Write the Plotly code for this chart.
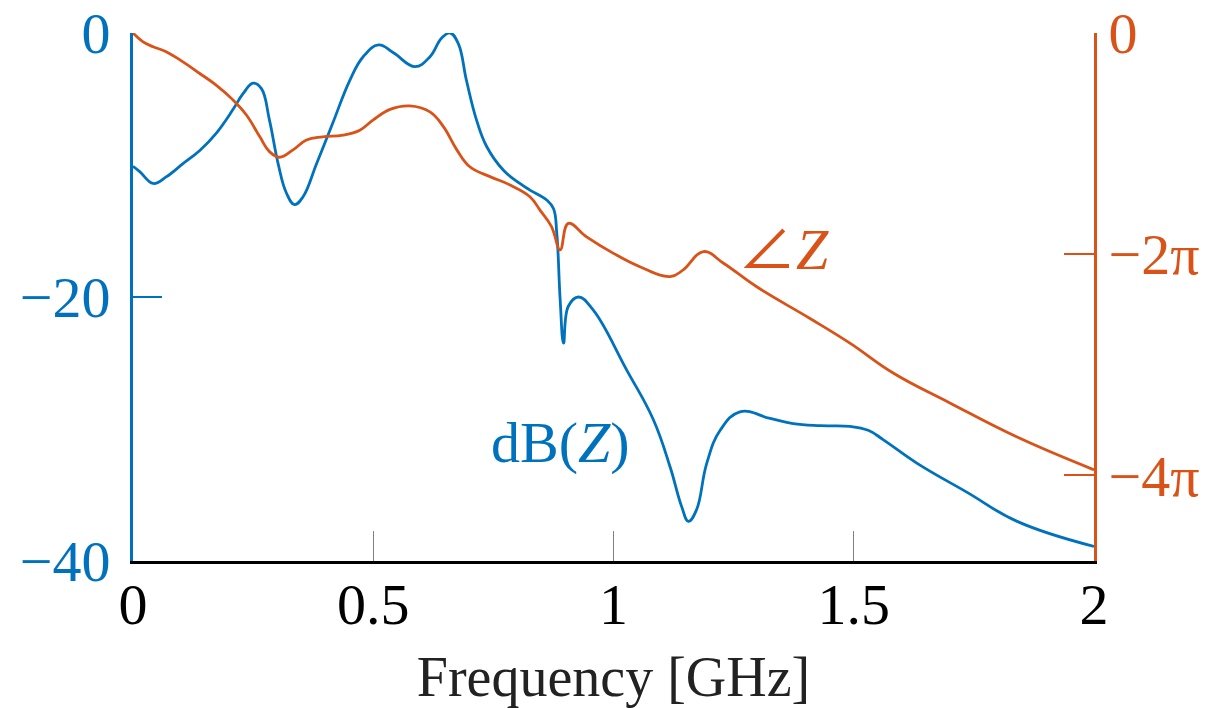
import math
import plotly.graph_objects as go

# Impedance magnitude (dB) sampled over frequency
freq_db = [0.000, 0.014, 0.042, 0.069, 0.104, 0.139, 0.173, 0.208, 0.229, 0.250,
           0.267, 0.284, 0.302, 0.319, 0.336, 0.354, 0.382, 0.416, 0.451, 0.479,
           0.511, 0.542, 0.587, 0.618, 0.642, 0.660, 0.677, 0.694, 0.715, 0.736,
           0.771, 0.805, 0.826, 0.861, 0.875, 0.882, 0.889, 0.896, 0.906, 0.927,
           0.958, 1.027, 1.083, 1.118, 1.142, 1.156, 1.173, 1.194, 1.222, 1.263,
           1.326, 1.374, 1.430, 1.492, 1.530, 1.561, 1.632, 1.736, 1.840, 2.000]
mag_db = [-10.1, -10.5, -11.4, -10.9, -9.9, -8.9, -7.6, -5.8, -4.6, -3.8,
          -4.2, -6.6, -9.9, -12.1, -13.0, -12.4, -9.9, -6.8, -3.6, -1.8,
          -0.9, -1.5, -2.55, -1.8, -0.4, 0.0, -0.8, -3.6, -6.6, -8.6,
          -10.4, -11.4, -11.9, -12.65, -13.3, -15.2, -20.2, -23.5, -20.7, -20.0,
          -21.0, -25.5, -29.3, -32.9, -35.9, -37.0, -36.1, -32.6, -30.1, -28.7,
          -29.2, -29.6, -29.75, -29.8, -30.1, -30.8, -32.6, -34.8, -37.0, -38.9]

# Impedance phase (rad) sampled over frequency
freq_ph = [0.000, 0.021, 0.042, 0.069, 0.104, 0.139, 0.173, 0.208, 0.236, 0.264,
           0.284, 0.305, 0.333, 0.361, 0.395, 0.437, 0.472, 0.500, 0.535, 0.576,
           0.618, 0.646, 0.674, 0.701, 0.743, 0.785, 0.826, 0.847, 0.871, 0.889,
           0.906, 0.944, 1.000, 1.055, 1.118, 1.145, 1.187, 1.229, 1.298, 1.409,
           1.492, 1.582, 1.700, 1.840, 2.000]
phase = [0.00, -0.25, -0.39, -0.53, -0.82, -1.15, -1.48, -1.90, -2.33, -2.95,
         -3.37, -3.53, -3.32, -3.04, -2.95, -2.90, -2.76, -2.47, -2.17, -2.07,
         -2.24, -2.66, -3.32, -3.80, -4.08, -4.32, -4.65, -5.03, -5.50, -6.16,
         -5.41, -5.79, -6.26, -6.64, -6.92, -6.73, -6.21, -6.54, -7.21, -8.11,
         -8.81, -9.66, -10.51, -11.48, -12.41]

x_ticks = [0, 0.5, 1, 1.5, 2]
x_tick_text = ["0", "0.5", "1", "1.5", "2"]
db_ticks = [0, -20, -40]
db_tick_text = ["0", "\u221220", "\u221240"]
ph_ticks = [0, -2 * math.pi, -4 * math.pi]
ph_tick_text = ["0", "\u22122\u03c0", "\u22124\u03c0"]

BLUE = "#0072BD"
ORANGE = "#D95319"
FONT = "Liberation Serif"
FS = 58

fig = go.Figure()
fig.add_trace(go.Scatter(x=freq_db, y=mag_db, mode="lines",
                         line=dict(color=BLUE, width=2.8, shape="spline", smoothing=1.2),
                         yaxis="y", showlegend=False))
fig.add_trace(go.Scatter(x=freq_ph, y=phase, mode="lines",
                         line=dict(color=ORANGE, width=2.8, shape="spline", smoothing=1.2),
                         yaxis="y2", showlegend=False))

fig.add_annotation(x=0.889, y=-31.0, xref="x", yref="y", text="dB(<i>Z</i>)",
                   showarrow=False, font=dict(family=FONT, size=FS, color=BLUE))
fig.add_annotation(x=1.353, y=-6.0, xref="x", yref="y2",
                   text="<span style='font-family:Noto Sans CJK SC'>\u2220</span><i>Z</i>",
                   showarrow=False, font=dict(family=FONT, size=FS, color=ORANGE))

fig.update_layout(
    width=1209, height=708,
    margin=dict(l=133, r=115, t=33, b=147),
    paper_bgcolor="white", plot_bgcolor="white",
    font=dict(family=FONT, size=FS, color="black"),
    xaxis=dict(range=[0, 2], tickvals=x_ticks, ticktext=x_tick_text,
               automargin=False,
               showgrid=False, zeroline=False, showline=True, linecolor="black",
               linewidth=3, ticks="inside", ticklen=30, tickwidth=1,
               tickcolor="#808080", ticklabelstandoff=-10,
               title=dict(text="Frequency [GHz]", standoff=24,
                          font=dict(family=FONT, size=56, color="#222222")),
               tickfont=dict(family=FONT, size=FS, color="black")),
    yaxis=dict(range=[-40, 0], tickvals=db_ticks, ticktext=db_tick_text,
               automargin=False,
               showgrid=False, zeroline=False, showline=True, linecolor=BLUE,
               linewidth=3, ticks="inside", ticklen=29, tickwidth=1.5,
               tickcolor=BLUE, ticklabelstandoff=8,
               tickfont=dict(family=FONT, size=FS, color=BLUE)),
    yaxis2=dict(range=[-15, 0], overlaying="y", side="right", anchor="x",
                automargin=False,
                tickvals=ph_ticks, ticktext=ph_tick_text,
                showgrid=False, zeroline=False, showline=True, linecolor=ORANGE,
                linewidth=3, ticks="inside", ticklen=30, tickwidth=1.5,
                tickcolor=ORANGE, ticklabelstandoff=0,
                tickfont=dict(family=FONT, size=FS, color=ORANGE)),
)

fig.write_html("out.html")
